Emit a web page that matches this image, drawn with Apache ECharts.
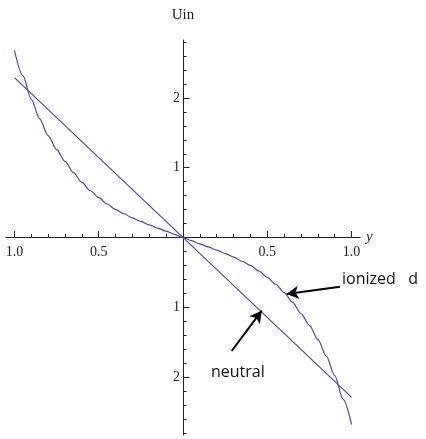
<!DOCTYPE html>
<html>
<head>
<meta charset="utf-8">
<script src="https://cdn.jsdelivr.net/npm/echarts@6/dist/echarts.min.js"></script>
<style>
  html, body { margin: 0; padding: 0; background: #ffffff; }
  #chart { width: 426px; height: 439px; }
</style>
</head>
<body>
<div id="chart"></div>
<script>
// Potential curves: the straight "neutral" profile and the cubic-like "ionized" one
const ionizedX = [-1.0, -0.95, -0.9, -0.85, -0.8, -0.75, -0.7, -0.65, -0.6, -0.55, -0.5,
                  -0.45, -0.4, -0.35, -0.3, -0.25, -0.2, -0.15, -0.1, -0.05, 0,
                  0.05, 0.1, 0.15, 0.2, 0.25, 0.3, 0.35, 0.4, 0.45, 0.5,
                  0.55, 0.6, 0.65, 0.7, 0.75, 0.8, 0.85, 0.9, 0.95, 1.0];
const ionizedY = [2.68, 2.32, 1.98, 1.70, 1.46, 1.26, 1.09, 0.93, 0.79, 0.67, 0.57,
                  0.48, 0.40, 0.34, 0.28, 0.23, 0.18, 0.135, 0.09, 0.045, 0,
                  -0.045, -0.09, -0.135, -0.18, -0.23, -0.28, -0.34, -0.40, -0.48, -0.57,
                  -0.67, -0.79, -0.93, -1.09, -1.26, -1.46, -1.70, -1.98, -2.32, -2.68];
const neutralX = [-1.0, 1.0];
const neutralY = [2.29, -2.29];

// Axis ticks and their printed labels
const xMinorTicks = [-1.0, -0.9, -0.8, -0.7, -0.6, -0.5, -0.4, -0.3, -0.2, -0.1,
                     0.1, 0.2, 0.3, 0.4, 0.5, 0.6, 0.7, 0.8, 0.9, 1.0];
const xMajorTicks = [-1.0, -0.5, 0.5, 1.0];
const xTickLabels = ['1.0', '0.5', '0.5', '1.0'];
const yMinorTicks = [-2.8, -2.6, -2.4, -2.2, -2.0, -1.8, -1.6, -1.4, -1.2, -1.0, -0.8, -0.6, -0.4, -0.2,
                     0.2, 0.4, 0.6, 0.8, 1.0, 1.2, 1.4, 1.6, 1.8, 2.0, 2.2, 2.4, 2.6, 2.8];
const yMajorTicks = [-2, -1, 1, 2];
const yTickLabels = ['2', '1', '1', '2'];

// Annotation texts and arrow ends (data coordinates)
const ionizedNote = 'ionized   d';
const neutralNote = 'neutral';
const ionizedArrow = [[0.931, -0.705], [0.615, -0.81]];
const neutralArrow = [[0.289, -1.626], [0.467, -1.049]];
const ionizedNoteAt = [0.943, -0.595];
const neutralNoteAt = [0.166, -1.927];

const toPairs = (xs, ys) => xs.map((x, i) => [x, ys[i]]);
const labelFor = (ticks, labels) => (v) => {
  const i = ticks.findIndex(t => Math.abs(t - v) < 1e-6);
  return i >= 0 ? labels[i] : '';
};

const curveColor = '#4848a4';
const axisColor = '#222';
const serifFamily = '"Liberation Serif", "DejaVu Serif", serif';
const tickFont = { fontFamily: serifFamily, fontSize: 14, color: axisColor };
const gridBox = { left: 6, top: 40, width: 354, height: 395, outerBoundsMode: 'none', containLabel: false };
const xRange = { min: -1.05, max: 1.05 };
const yRange = { min: -2.83, max: 2.83 };

// The labelled axes sit on the zero lines: shift them in from the grid edges
const xZeroShift = -gridBox.height * (0 - yRange.min) / (yRange.max - yRange.min);
const yZeroShift = -gridBox.width * (0 - xRange.min) / (xRange.max - xRange.min);

const chart = echarts.init(document.getElementById('chart'), null, { renderer: 'canvas' });

chart.setOption({
  animation: false,
  backgroundColor: '#ffffff',
  grid: [
    Object.assign({}, gridBox),
    Object.assign({}, gridBox)
  ],
  xAxis: [
    {
      gridIndex: 0, type: 'value', ...xRange,
      name: 'y', nameLocation: 'end', nameGap: 6,
      nameTextStyle: { fontFamily: serifFamily, fontStyle: 'italic', fontSize: 15,
                       color: axisColor, padding: [5, 0, 0, 0] },
      axisLine: { onZero: true, lineStyle: { color: axisColor, width: 1 } },
      axisTick: { show: true, inside: true, length: 3.5, customValues: xMinorTicks,
                  lineStyle: { color: axisColor, width: 1 } },
      axisLabel: { show: false },
      splitLine: { show: false }
    },
    {
      gridIndex: 1, type: 'value', ...xRange,
      position: 'bottom', offset: xZeroShift,
      axisLine: { show: false, onZero: false },
      axisTick: { show: true, inside: true, length: 6.5, customValues: xMajorTicks,
                  lineStyle: { color: axisColor, width: 1 } },
      axisLabel: Object.assign({ show: true, margin: 8, customValues: xMajorTicks,
                                 formatter: labelFor(xMajorTicks, xTickLabels) }, tickFont),
      splitLine: { show: false }
    }
  ],
  yAxis: [
    {
      gridIndex: 0, type: 'value', ...yRange,
      name: 'Uin', nameLocation: 'end', nameGap: 17,
      nameTextStyle: { fontFamily: serifFamily, fontSize: 15, color: axisColor },
      axisLine: { show: true, onZero: true, lineStyle: { color: axisColor, width: 1 } },
      axisTick: { show: true, inside: true, length: 3.5, customValues: yMinorTicks,
                  lineStyle: { color: axisColor, width: 1 } },
      axisLabel: { show: false },
      splitLine: { show: false }
    },
    {
      gridIndex: 1, type: 'value', ...yRange,
      position: 'left', offset: yZeroShift,
      axisLine: { show: false, onZero: false },
      axisTick: { show: true, inside: true, length: 6.5, customValues: yMajorTicks,
                  lineStyle: { color: axisColor, width: 1 } },
      axisLabel: Object.assign({ show: true, margin: 3, customValues: yMajorTicks,
                                 formatter: labelFor(yMajorTicks, yTickLabels) }, tickFont),
      splitLine: { show: false }
    }
  ],
  series: [
    {
      name: 'ionized', type: 'line', xAxisIndex: 0, yAxisIndex: 0,
      data: toPairs(ionizedX, ionizedY),
      showSymbol: false, smooth: 0.3, smoothMonotone: 'x',
      lineStyle: { color: curveColor, width: 1.2 },
      markLine: {
        silent: true, symbol: ['none', 'arrow'], symbolSize: [10, 12],
        label: { show: false },
        lineStyle: { color: '#000', width: 2, type: 'solid' },
        data: [[{ coord: ionizedArrow[0] }, { coord: ionizedArrow[1] }]]
      },
      markPoint: {
        silent: true, symbolSize: 0,
        label: { show: true, position: 'right', distance: 0,
                 fontFamily: '"Open Sans", "DejaVu Sans", sans-serif', fontSize: 16, color: '#111' },
        data: [{ coord: ionizedNoteAt, value: ionizedNote, label: { formatter: ionizedNote } }]
      }
    },
    {
      name: 'neutral', type: 'line', xAxisIndex: 0, yAxisIndex: 0,
      data: toPairs(neutralX, neutralY),
      showSymbol: false,
      lineStyle: { color: curveColor, width: 1.2 },
      markLine: {
        silent: true, symbol: ['none', 'arrow'], symbolSize: [10, 12],
        label: { show: false },
        lineStyle: { color: '#000', width: 2, type: 'solid' },
        data: [[{ coord: neutralArrow[0] }, { coord: neutralArrow[1] }]]
      },
      markPoint: {
        silent: true, symbolSize: 0,
        label: { show: true, position: 'right', distance: 0,
                 fontFamily: '"Open Sans", "DejaVu Sans", sans-serif', fontSize: 16, color: '#111' },
        data: [{ coord: neutralNoteAt, value: neutralNote, label: { formatter: neutralNote } }]
      }
    }
  ]
});
</script>
</body>
</html>
